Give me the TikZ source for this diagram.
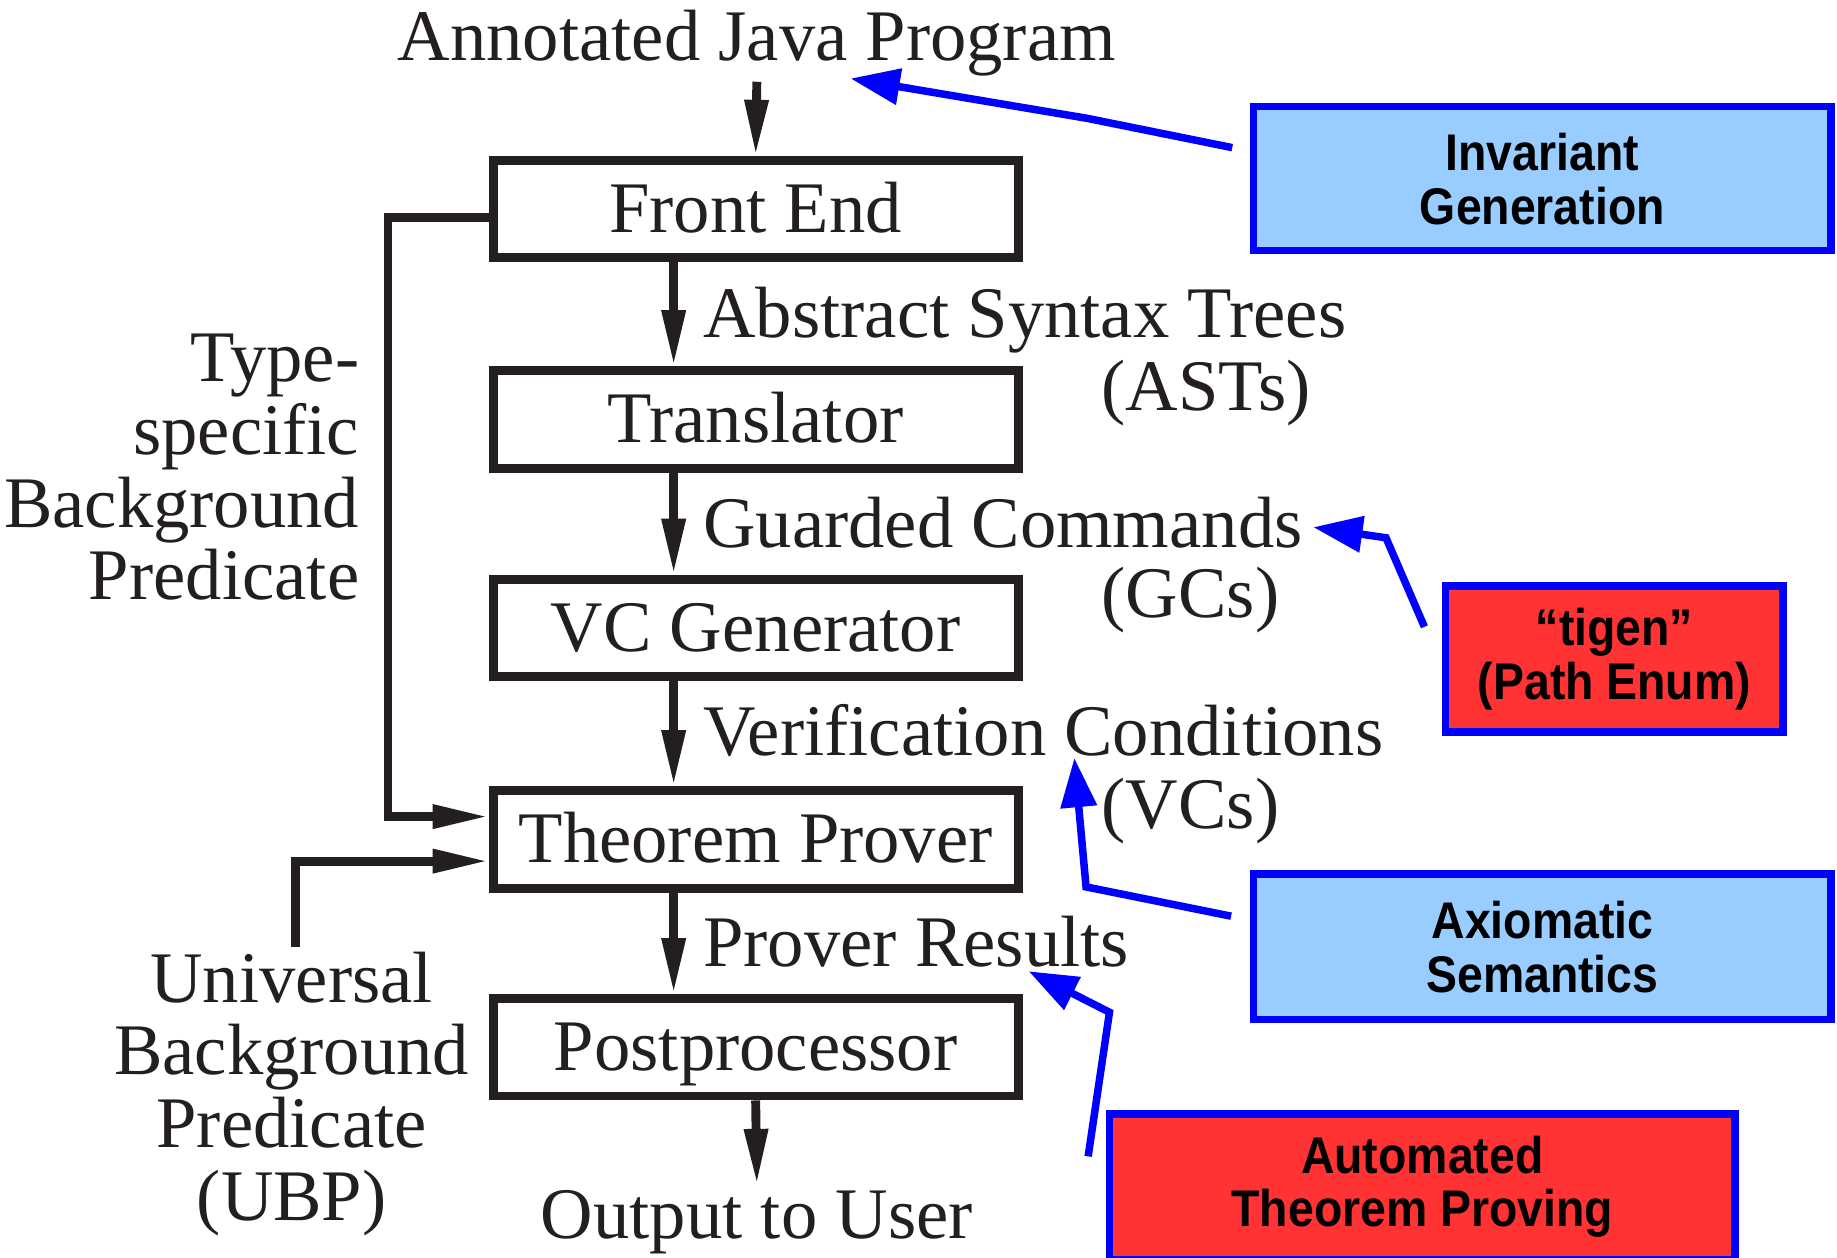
\documentclass[tikz,border=0pt]{standalone}
\usepackage{fontspec}
\setmainfont{Liberation Serif}
\newfontfamily\boxfont[FakeStretch=0.9]{Liberation Sans}
\usetikzlibrary{arrows.meta}
\definecolor{ink}{HTML}{231F20}
\definecolor{pblue}{HTML}{0000FF}
\definecolor{lblue}{HTML}{99CCFF}
\definecolor{lred}{HTML}{FF3333}
\tikzset{
  stage/.style={draw=ink, line width=3.8pt, minimum width=224pt, minimum height=41.5pt,
    inner sep=0pt, text height=20pt, text depth=0pt, font=\fontsize{31}{31}\selectfont, text=ink},
  lbl/.style={font=\fontsize{31}{31}\selectfont, text=ink, inner sep=2pt},
  flow/.style={draw=ink, line width=3.8pt, -{Triangle[length=24pt,width=9.5pt]}},
  note/.style={draw=pblue, line width=3.2pt, -{Triangle[length=21pt,width=15pt]}},
  tag/.style={draw=pblue, line width=3.2pt, align=center, text=black,
    font=\fontsize{22}{23}\selectfont\boxfont\bfseries},
}
\begin{document}
\begin{tikzpicture}[x=0.5pt,y=-0.5pt]
\useasboundingbox (0,0) rectangle (1568,1073);

% stages
\node[stage] (fe) at (645,178.5) {Front End};
\node[stage] (tr) at (645,358) {Translator};
\node[stage] (vc) at (645,536) {VC Generator};
\node[stage] (tp) at (645,716.5) {Theorem Prover};
\node[stage] (pp) at (645,894) {Postprocessor};

% labels
\node[lbl, anchor=base] (ajp) at (646,52) {Annotated Java Program};
\node[lbl, anchor=base west] (ast) at (596,288) {Abstract Syntax Trees};
\node[lbl, anchor=base west] (asts) at (936,350) {(ASTs)};
\node[lbl, anchor=base west] (gc) at (596,467) {Guarded Commands};
\node[lbl, anchor=base west] (gcs) at (936,527) {(GCs)};
\node[lbl, anchor=base west] (vcl) at (596,644.5) {Verification Conditions};
\node[lbl, anchor=base west] (vcs) at (936,707) {(VCs)};
\node[lbl, anchor=base west] (pr) at (596,825) {Prover Results};
\node[lbl, anchor=base] (out) at (646,1057) {Output to User};
\node[lbl, anchor=base east, align=right] (tsbp) at (311,512) {Type-\\specific\\Background\\Predicate};
\node[lbl, anchor=base, align=center] (ubp) at (249,1041.5) {Universal\\Background\\Predicate\\(UBP)};

% main flow
\draw[flow] (ajp.south) -- (fe.north);
\draw[flow] ([xshift=-35pt]fe.south) -- ([xshift=-35pt]tr.north);
\draw[flow] ([xshift=-35pt]tr.south) -- ([xshift=-35pt]vc.north);
\draw[flow] ([xshift=-35pt]vc.south) -- ([xshift=-35pt]tp.north);
\draw[flow] ([xshift=-35pt]tp.south) -- ([xshift=-35pt]pp.north);
\draw[flow] (pp.south) -- (out.north);
\draw[flow] ([yshift=-3.75pt]fe.west) -- ++(-43pt,0) |- ([yshift=9.75pt]tp.west);
\draw[flow] ([xshift=1.5pt]ubp.north) |- ([yshift=-9.25pt]tp.west);

% annotation boxes
\node[tag, fill=lblue, minimum width=246.5pt, minimum height=61.5pt] (ig) at (1316.5,152.5) {Invariant\\Generation};
\node[tag, fill=lred, minimum width=144pt, minimum height=62.5pt] (tg) at (1378,562.5) {“tigen”\\(Path Enum)};
\node[tag, fill=lblue, minimum width=246.5pt, minimum height=62pt] (as) at (1316.5,808) {Axiomatic\\Semantics};
\node[tag, fill=lred, minimum width=267pt, minimum height=62pt] (atp) at (1214,1013) {Automated\\Theorem Proving};

% annotation arrows
\coordinate (igbend) at (928,101);
\coordinate (igtip) at (726,67);
\coordinate (tgbend) at (1183,459);
\coordinate (tgtip) at (1121,450);
\coordinate (asbend) at (927,757);
\coordinate (astip) at (917,647);
\coordinate (atpbend) at (947,864);
\coordinate (atptip) at (878,829);
\draw[note] ([xshift=-7.5pt,yshift=13.25pt]ig.west) -- (igbend) -- (igtip);
\draw[note] ([xshift=-7.5pt,yshift=13.75pt]tg.west) -- (tgbend) -- (tgtip);
\draw[note] ([xshift=-8pt,yshift=13pt]as.west) -- (asbend) -- (astip);
\draw[note] ([xshift=-7.5pt,yshift=13pt]atp.west) -- (atpbend) -- (atptip);
\end{tikzpicture}
\end{document}
